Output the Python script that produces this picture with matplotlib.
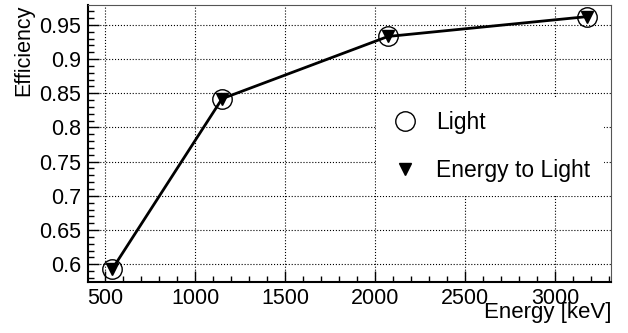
import matplotlib
matplotlib.use("Agg")
import matplotlib.pyplot as plt
from matplotlib.ticker import MultipleLocator, FuncFormatter

plt.rcParams['font.family'] = ['Liberation Sans', 'DejaVu Sans']

# data
energy = [540, 1150, 2072, 3178]
eff_light = [0.593, 0.842, 0.933, 0.962]
eff_energy_to_light = [0.593, 0.842, 0.933, 0.962]

fig = plt.figure(figsize=(6.28, 3.33), dpi=100)
ax = fig.add_axes([88 / 628, 1 - 282 / 333, (611 - 88) / 628, (282 - 5) / 333])

ax.plot(energy, eff_light, 'o', mfc='none', mec='black', mew=1.0, ms=14,
        label='Light', zorder=3)
ax.plot(energy, eff_energy_to_light, '-v', color='black', lw=2, ms=8,
        label='Energy to Light', zorder=4)

ax.set_xlim(405, 3311)
ax.set_ylim(0.574, 0.979)

ax.xaxis.set_major_locator(MultipleLocator(500))
ax.xaxis.set_minor_locator(MultipleLocator(100))
ax.yaxis.set_major_locator(MultipleLocator(0.05))
ax.yaxis.set_minor_locator(MultipleLocator(0.01))
ax.yaxis.set_major_formatter(FuncFormatter(lambda v, p: '%g' % round(v, 2)))

ax.tick_params(which='both', direction='in', labelsize=15.5, top=False, right=False)
ax.tick_params(which='major', length=8, width=1)
ax.tick_params(which='minor', length=4, width=1)
ax.tick_params(axis='x', pad=4)
ax.tick_params(axis='y', pad=5)

ax.grid(True, which='major', linestyle=':', color='black', lw=0.8)

for s in ['top', 'right']:
    ax.spines[s].set_linewidth(0.8)
    ax.spines[s].set_color('#555555')
for s in ['left', 'bottom']:
    ax.spines[s].set_linewidth(1.5)

ax.set_xlabel('Energy [keV]', fontsize=16, loc='right')
ax.xaxis.set_label_coords(1.0, (282 - 302) / 277)
ax.set_ylabel('Efficiency', fontsize=15.5, loc='top')
ax.yaxis.set_label_coords((34 - 88) / 523, 1.0)

leg = ax.legend(loc='upper left', bbox_to_anchor=((376 - 88) / 523, (282 - 97) / 277),
                borderaxespad=0, frameon=True, fontsize=16.5, labelspacing=1.1,
                handletextpad=0.72, borderpad=0.6, handlelength=1.3)
leg.get_frame().set_edgecolor('none')
leg.get_frame().set_facecolor('white')
leg.get_frame().set_alpha(1.0)
leg.get_frame().set_boxstyle('square', pad=0)
# keep only the marker in the legend handle for the line series
leg.legend_handles[1].set_linestyle('none')

fig.savefig('out.png', dpi=100)
